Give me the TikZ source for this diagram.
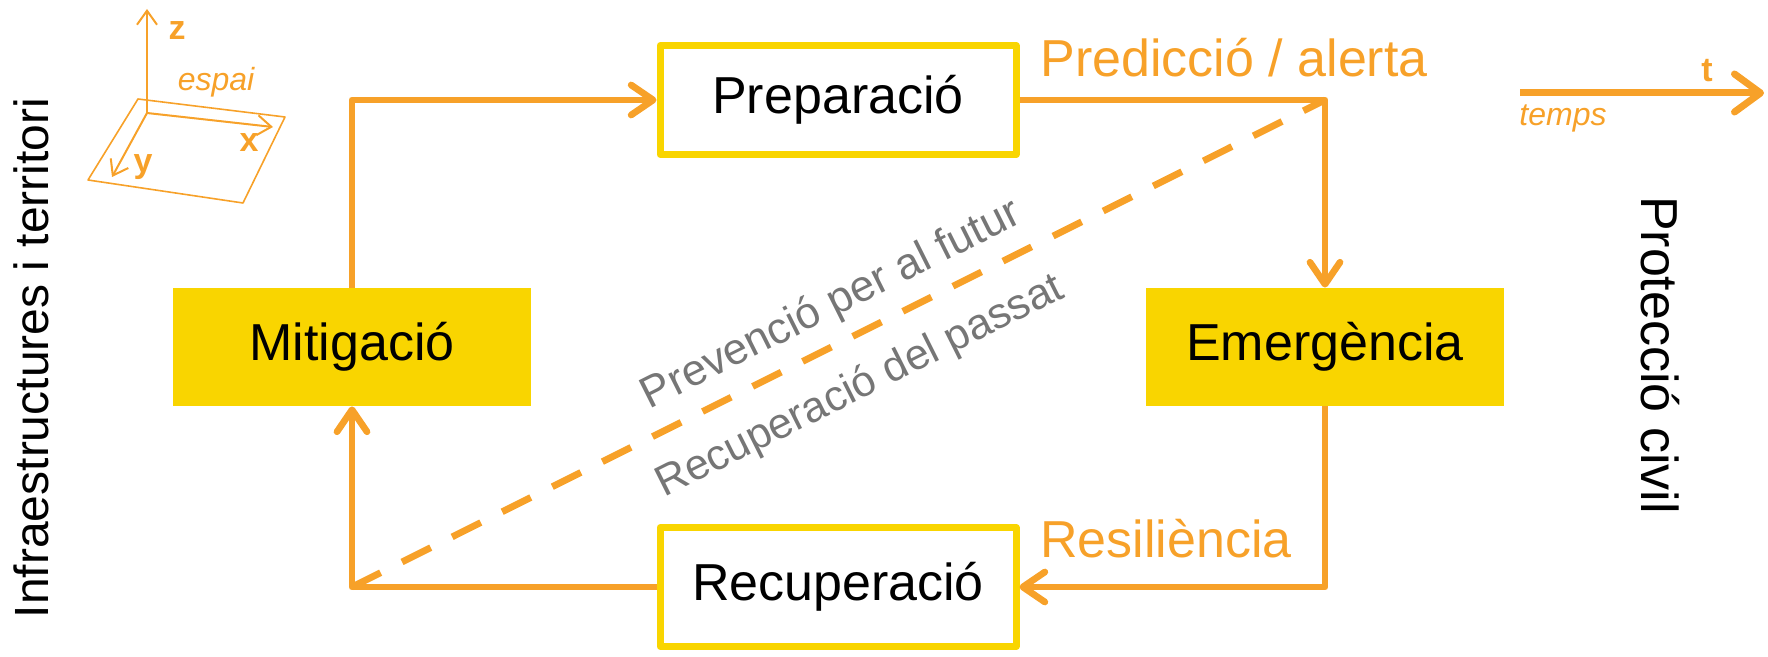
\documentclass[tikz,border=0pt]{standalone}
\usepackage{fontspec}
\setmainfont{Liberation Sans}
\usetikzlibrary{arrows.meta,positioning}
\definecolor{taronja}{RGB}{247,161,41}
\definecolor{groc}{RGB}{249,213,0}
\definecolor{gris}{RGB}{118,118,118}

\begin{document}
\begin{tikzpicture}[x=0.5pt,y=-0.5pt,>={Straight Barb[length=11pt,width=15pt,round]},line join=round]
\tikzstyle{hollow}=[draw=groc,line width=3.5pt,fill=white,minimum width=178pt,minimum height=54.5pt,font=\fontsize{26}{31}\selectfont]
\tikzstyle{filled}=[fill=groc,minimum width=179pt,minimum height=59pt,font=\fontsize{26}{31}\selectfont]
\tikzstyle{loopline}=[draw=taronja,line width=3.35pt]
\tikzstyle{vh}=[to path={|- (\tikztotarget)}]
\tikzstyle{hv}=[to path={-| (\tikztotarget)}]
\tikzstyle{orangetxt}=[text=taronja,inner sep=0pt,font=\fontsize{26}{31}\selectfont]
\tikzstyle{greytxt}=[text=gris,inner sep=0pt,font=\fontsize{21.5}{26}\selectfont]
\tikzstyle{axis}=[taronja,line width=1pt,-{Straight Barb[length=7pt,width=10pt]}]
\tikzstyle{axislbl}=[text=taronja,inner sep=0pt,font=\fontsize{17}{20}\selectfont\bfseries]
\tikzstyle{smalllbl}=[text=taronja,inner sep=0pt,font=\fontsize{16}{19}\selectfont\itshape]
\useasboundingbox (0,0) rectangle (1768,657);

% cycle
\node[hollow] (P) at (838,100) {Preparació};
\node[filled] (M) [on grid,below left=123.5pt and 243pt of P] {Mitigació};
\node[filled] (E) [on grid,below right=123.5pt and 243.5pt of P] {Emergència};
\node[hollow,minimum height=59.5pt] (R) [on grid,below=243.5pt of P] {Recuperació};

\coordinate (bl) at (M |- R);
\coordinate (tr) at (E |- P);
\draw[taronja,line width=3.4pt,dash pattern=on 16pt off 12pt] (bl) -- (tr)
  node[greytxt,font=\fontsize{22}{26}\selectfont,pos=0.51,sloped,above=6.5pt] (fut) {Prevenció per al futur}
  node[greytxt,pos=0.5,sloped,below=12.5pt] (pas) {Recuperació del passat};

\path
(M.north) edge[loopline,vh,->] (P.west)
(P.east) edge[loopline,hv,->] (E.north)
(E.south) edge[loopline,vh,->] (R.east)
(R.west) edge[loopline,hv,->] (M.south)
;

\node[orangetxt,anchor=base west] (pred) at (1040,77) {Predicció / alerta};
\node[orangetxt,anchor=base west] (res) at (1040,558) {Resiliència};

% sides
\node[rotate=90,inner sep=0pt,font=\fontsize{24}{29}\selectfont] (infra) at (31,358) {Infraestructures i territori};
\node[rotate=-90,inner sep=0pt,font=\fontsize{26}{31}\selectfont] (prot) at (1660,355) {Protecció civil};

% espai
\draw[taronja,line width=0.8pt] (138,99) -- (285,117) -- (243,203) -- (88,180) -- cycle;
\coordinate (o) at (147,113);
\coordinate (zt) at (147,9);
\coordinate (xt) at (273,127);
\coordinate (yt) at (112,177);
\draw[axis] (o) -- (zt);
\draw[axis] (o) -- (xt);
\draw[axis] (o) -- (yt);
\node[axislbl] (zl) at (177,31) {z};
\node[axislbl] (xl) at (249,143) {x};
\node[axislbl] (yl) at (143,167) {y};
\node[smalllbl] (esp) at (216,82) {espai};

% temps
\coordinate (t0) at (1520,93);
\coordinate (t1) at (1764,93);
\draw[taronja,line width=3.5pt,-{Straight Barb[length=13pt,width=19pt,round]}] (t0) -- (t1);
\node[axislbl] (tl) at (1707,71) {t};
\node[smalllbl] (tmp) at (1563,118) {temps};
\end{tikzpicture}
\end{document}
